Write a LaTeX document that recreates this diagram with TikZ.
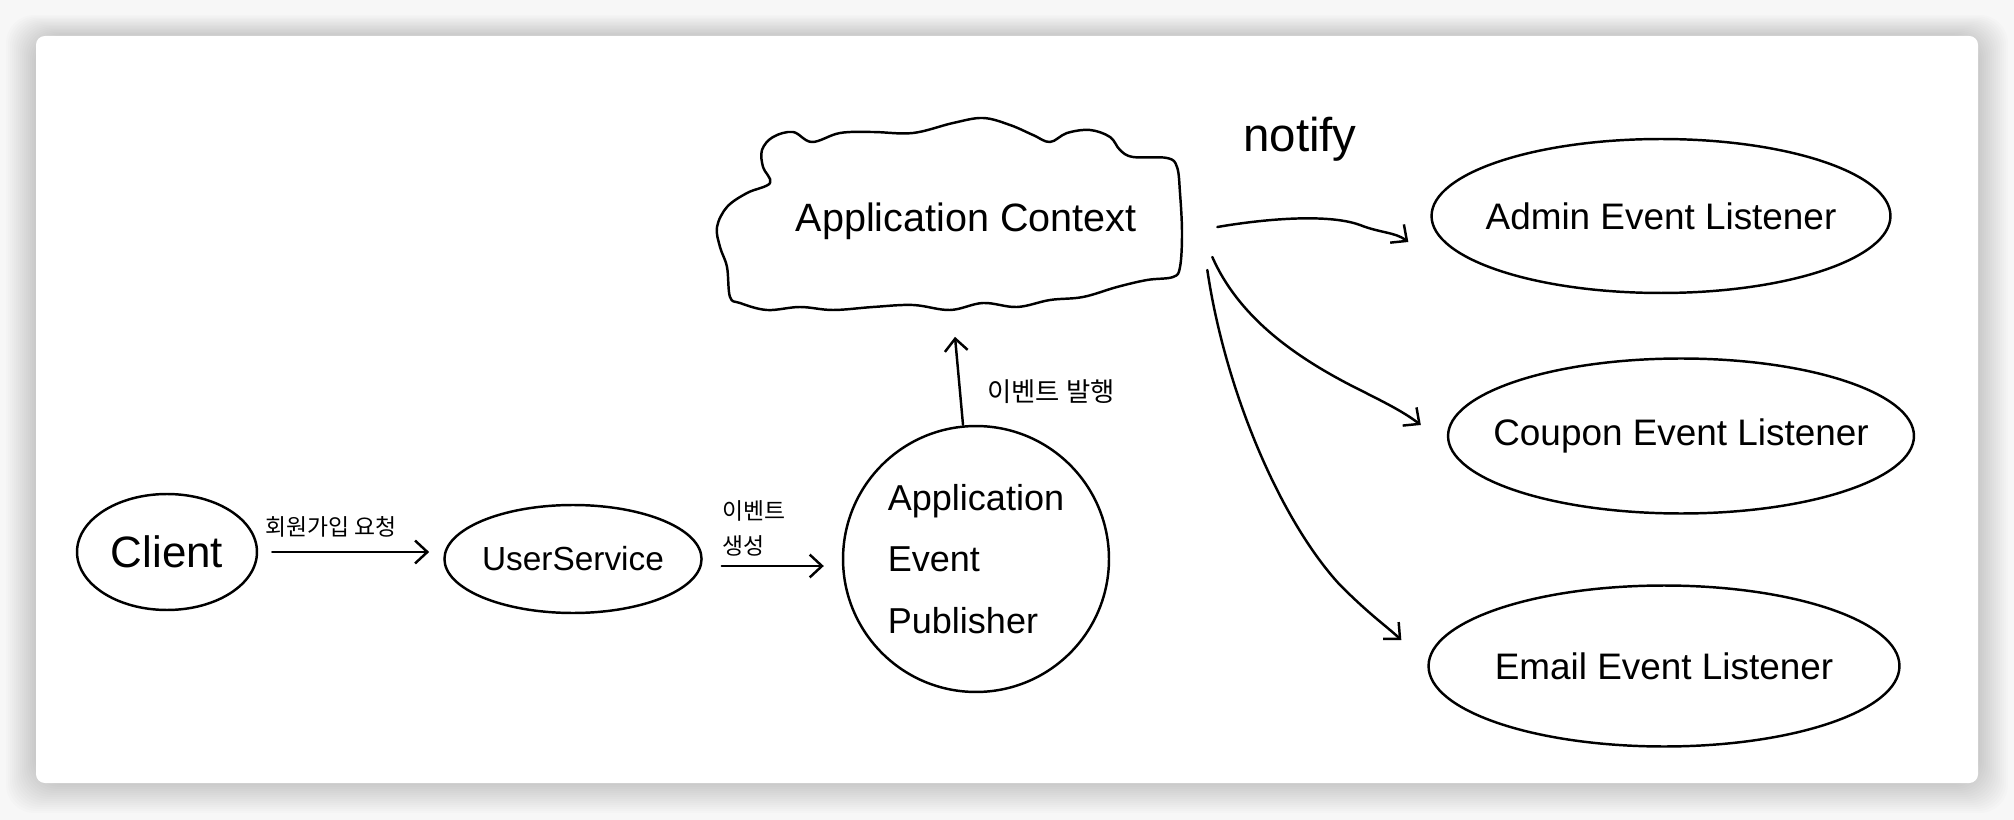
\documentclass[tikz,border=0pt]{standalone}
\usepackage{fontspec}
\setmainfont{Liberation Sans}
\newfontfamily\krfont{Noto Sans CJK KR}
\usetikzlibrary{shapes.geometric,arrows.meta,positioning}

\tikzset{
  sketch/.style={line width=1.4pt, line cap=round, line join=round},
  bubble/.style={sketch, draw, ellipse, inner sep=0pt},
  listener/.style={bubble, inner xsep=-18pt, font=\fontsize{21}{24}\selectfont},
  arr/.style={sketch, -{Straight Barb[length=7pt,width=13pt]}},
  kr/.style={font=\krfont\fontsize{13}{20}\selectfont},
}

\begin{document}
\begin{tikzpicture}[x=0.02cm, y=-0.02cm]
  % page, shadow and card
  \fill[black!3] (0,0) rectangle (2014,820);
  \foreach \s in {2,4,...,30}
    \fill[black, opacity=0.013, rounded corners=16pt] (36-\s,36-\s*0.7) rectangle (1978+\s,783+\s);
  \fill[white, rounded corners=5pt] (36,36) rectangle (1978,783);
  \useasboundingbox (0,0) rectangle (2014,820);

  % cloud outline
  \draw[sketch] plot[smooth cycle, tension=0.6] coordinates {
    (812,142) (840,133) (873,132) (913,133) (953,123) (983,118) (1010,125)
    (1033,135) (1050,142) (1067,133) (1090,130) (1110,137) (1120,150)
    (1133,157) (1167,158) (1177,167) (1180,193) (1182,233) (1180,267)
    (1173,277) (1147,280) (1117,287) (1083,297) (1050,300) (1017,307)
    (983,303) (950,310) (913,305) (873,307) (833,310) (800,307) (767,310)
    (740,303) (730,297) (727,267) (720,247) (717,227) (727,207) (747,193)
    (770,183) (763,167) (762,150) (773,137) (793,132)};

  \node[minimum width=9.36cm, minimum height=3.98cm, font=\fontsize{22.5}{26}\selectfont] (ctx) at (966,221) {Application Context};

  \node[bubble, minimum width=3.6cm, minimum height=2.32cm, font=\fontsize{25}{28}\selectfont] (client) at (167,552) {Client};
  \node[bubble, minimum width=5.14cm, minimum height=2.16cm, font=\fontsize{19}{22}\selectfont] (user) at (573,559) {UserService};
  \node[sketch, draw, circle, minimum size=5.32cm, inner sep=0pt, align=left, font=\fontsize{20.5}{35}\selectfont] (pub) at (976,559) {Application\\Event\\Publisher};

  \node[listener, minimum width=9.18cm, minimum height=3.08cm] (admin) at (1661,216) {Admin Event Listener};
  \node[listener, minimum width=9.32cm, minimum height=3.1cm] (coupon) at (1681,436) {Coupon Event Listener};
  \node[listener, minimum width=9.42cm, minimum height=3.22cm] (email) at (1664,666) {Email Event Listener};

  % labels
  \node[kr] (joinlbl) at (331,527) {회원가입 요청};
  \node[kr, anchor=west, align=left] (createlbl) at (716,528) {이벤트\\생성};
  \node[kr, font=\krfont\fontsize{15}{20}\selectfont] (publbl) at (1051,392) {이벤트 발행};
  \node[font=\fontsize{27}{30}\selectfont] (notifylbl) at (1300,139) {notify};

  % connectors
  \draw[arr, shorten <=8pt, shorten >=8pt] (client.east) -- (client.east -| user.west);
  \draw[arr] ([shift={(19,7)}]user.east) -- ([shift={(-18,7)}]pub.west);
  \draw[arr] ([shift={(-13,0)}]pub.north) -- ([shift={(-11,16)}]ctx.south);

  \draw[arr] ([shift={(17,6)}]ctx.east) .. controls (1270,218) and (1330,214) .. (1360,225)
    .. controls (1380,233) and (1395,232) .. ([shift={(-22,26)}]admin.west);
  \draw[arr] ([shift={(12,36)}]ctx.east) .. controls (1240,320) and (1300,360) .. (1360,390)
    .. controls (1390,405) and (1405,413) .. ([shift={(-26,-11)}]coupon.west);
  \draw[arr] ([shift={(7,49)}]ctx.east) .. controls (1225,390) and (1280,520) .. (1340,585)
    .. controls (1370,615) and (1385,625) .. ([shift={(-26,-26)}]email.west);
\end{tikzpicture}
\end{document}
